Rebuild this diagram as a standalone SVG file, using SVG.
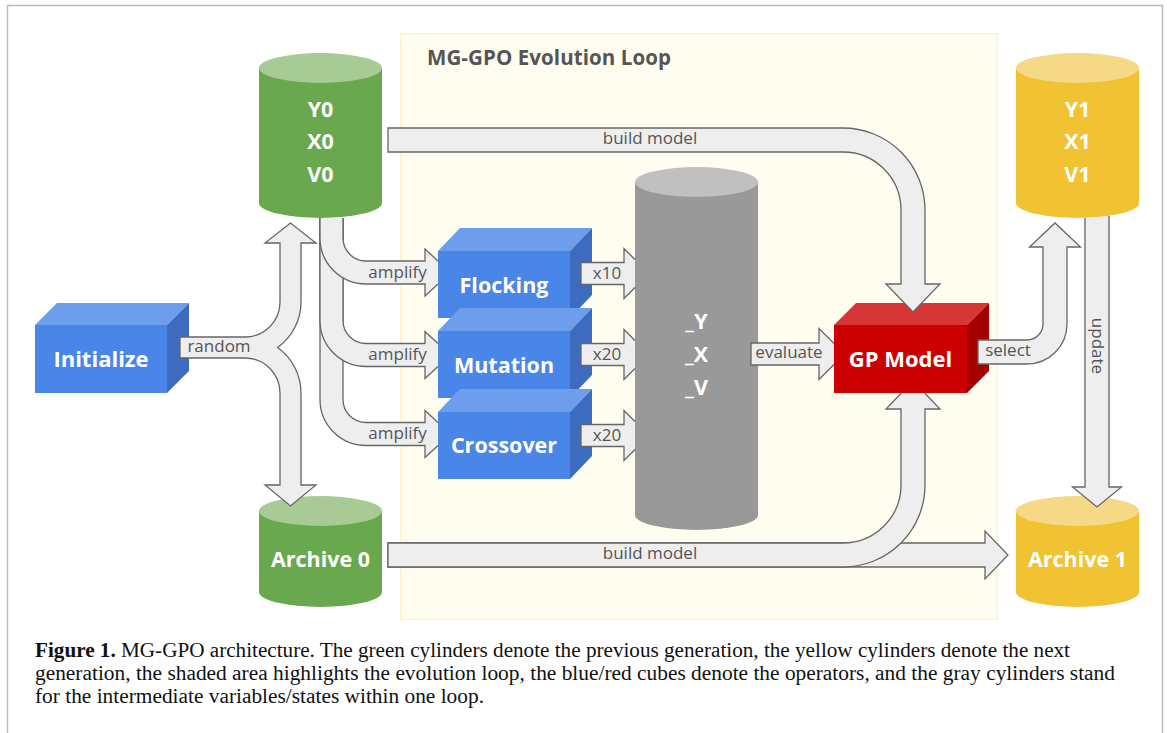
<svg xmlns="http://www.w3.org/2000/svg" width="1167" height="733" viewBox="0 0 1167 733">
<style>
.lbl{font-family:"Open Sans","Noto Sans",sans-serif;font-size:17px;fill:#555;text-anchor:middle}
.nl{font-family:"Open Sans","Noto Sans",sans-serif;font-weight:700;font-size:21.5px;fill:#fff;text-anchor:middle}
.af{fill:#eeeeee;stroke:none}
.as{fill:none;stroke:#666;stroke-width:1.3;stroke-linejoin:miter}
.ar{fill:#eeeeee;stroke:#666;stroke-width:1.3}
.bf{fill:#4a86e8}.bt{fill:#6d9eeb}.bs{fill:#3c6bbf}
.cap{font-family:"Liberation Serif","Times New Roman",serif;font-size:20.5px;fill:#111}
</style>
<rect x="0" y="0" width="1167" height="733" fill="#fff"/>
<rect x="7.5" y="5.5" width="1155" height="740" fill="#fff" stroke="#bbb" stroke-width="1.5"/>
<g id="loop">
<rect x="400.5" y="33.5" width="597" height="586" fill="#fffcf0" stroke="#fff0c6" stroke-width="1.2"/>
<text x="427" y="65" textLength="244" style="font-family:'Open Sans','Noto Sans',sans-serif;font-weight:700;font-size:20.5px;fill:#555">MG-GPO Evolution Loop</text>
</g>
<g id="y0">
<rect x="259" y="68" width="123" height="135" fill="#6aa84f"/>
<ellipse cx="320.5" cy="203" rx="61.5" ry="15" fill="#6aa84f"/>
<ellipse cx="320.5" cy="68" rx="61.5" ry="15" fill="#a8cb96"/>
<text class="nl" x="320.5" y="117">Y0</text><text class="nl" x="320.5" y="149">X0</text><text class="nl" x="320.5" y="182">V0</text>
</g>
<g id="y1">
<rect x="1016" y="68" width="123" height="135" fill="#f1c232"/>
<ellipse cx="1077.5" cy="203" rx="61.5" ry="15" fill="#f1c232"/>
<ellipse cx="1077.5" cy="68" rx="61.5" ry="15" fill="#f5d987"/>
<text class="nl" x="1077.5" y="117">Y1</text><text class="nl" x="1077.5" y="149">X1</text><text class="nl" x="1077.5" y="182">V1</text>
</g>
<g id="archive0">
<rect x="259" y="511" width="123" height="81" fill="#6aa84f"/>
<ellipse cx="320.5" cy="592" rx="61.5" ry="15" fill="#6aa84f"/>
<ellipse cx="320.5" cy="511" rx="61.5" ry="15" fill="#a8cb96"/>
<text class="nl" x="320.5" y="567">Archive 0</text>
</g>
<g id="archive1">
<rect x="1016" y="511" width="123" height="81" fill="#f1c232"/>
<ellipse cx="1077.5" cy="592" rx="61.5" ry="15" fill="#f1c232"/>
<ellipse cx="1077.5" cy="511" rx="61.5" ry="15" fill="#f5d987"/>
<text class="nl" x="1077.5" y="567">Archive 1</text>
</g>
<g id="initialize">
<rect class="bf" x="35" y="325" width="132" height="68"/>
<polygon class="bt" points="35,325 57,303 189,303 167,325"/>
<polygon class="bs" points="167,325 189,303 189,371 167,393"/>
<text class="nl" x="101" y="367" style="font-size:22px">Initialize</text>
</g>
<g id="flocking">
<rect class="bf" x="438" y="251" width="132" height="67"/>
<polygon class="bt" points="438,251 460,228 592,228 570,251"/>
<polygon class="bs" points="570,251 592,228 592,295 570,318"/>
<text class="nl" x="504" y="293">Flocking</text>
</g>
<g id="mutation">
<rect class="bf" x="438" y="331" width="132" height="67"/>
<polygon class="bt" points="438,331 460,308 592,308 570,331"/>
<polygon class="bs" points="570,331 592,308 592,375 570,398"/>
<text class="nl" x="504" y="373">Mutation</text>
</g>
<g id="crossover">
<rect class="bf" x="438" y="412" width="132" height="67"/>
<polygon class="bt" points="438,412 460,389 592,389 570,412"/>
<polygon class="bs" points="570,412 592,389 592,456 570,479"/>
<text class="nl" x="504" y="453">Crossover</text>
</g>
<g id="states">
<rect x="635" y="182" width="123" height="333" fill="#999"/>
<ellipse cx="696.5" cy="515" rx="61.5" ry="15" fill="#999"/>
<ellipse cx="696.5" cy="182" rx="61.5" ry="15" fill="#c0c0c0"/>
<text class="nl" x="696.5" y="329">_Y</text><text class="nl" x="696.5" y="362">_X</text><text class="nl" x="696.5" y="395">_V</text>
</g>
<g id="gpmodel">
<rect x="834" y="325" width="133" height="68" fill="#cc0000"/>
<polygon points="834,325 856,303 989,303 967,325" fill="#d63636"/>
<polygon points="967,325 989,303 989,371 967,393" fill="#a30000"/>
<text class="nl" x="900.5" y="367" style="font-size:22px">GP Model</text>
</g>
<g id="connectors">
<path class="ar" d="M180,337 H245 A35,35 0 0 0 280,302 V243 H265 L290.5,223 L316,243 H301 V302 A56,56 0 0 1 277.65,347.5 A56,56 0 0 1 301,393 V485 H316 L290.5,506 L265,485 H280 V393 A35,35 0 0 0 245,358 H180 Z"/>
<path class="af" d="M320,218 H343 V399.5 A23,23 0 0 0 366,422.5 H425 V410.5 L438,422.5 V445.5 L425,457.5 V445.5 H366 A46,46 0 0 1 320,399.5 Z"/>
<path class="as" d="M343,218 V399.5 A23,23 0 0 0 366,422.5 H425 V410.5 L438,422.5 M438,445.5 L425,457.5 V445.5 H366 A46,46 0 0 1 320,399.5 V218"/>
<path class="af" d="M320,218 H343 V320.5 A23,23 0 0 0 366,343.5 H425 V331.5 L438,343.5 V366.5 L425,378.5 V366.5 H366 A46,46 0 0 1 320,320.5 Z"/>
<path class="as" d="M343,218 V320.5 A23,23 0 0 0 366,343.5 H425 V331.5 L438,343.5 M438,366.5 L425,378.5 V366.5 H366 A46,46 0 0 1 320,320.5 V218"/>
<path class="af" d="M320,218 H343 V238 A23,23 0 0 0 366,261 H425 V249 L438,261 V284 L425,296 V284 H366 A46,46 0 0 1 320,238 Z"/>
<path class="as" d="M343,218 V238 A23,23 0 0 0 366,261 H425 V249 L438,261 M438,284 L425,296 V284 H366 A46,46 0 0 1 320,238 V218"/>
<path class="ar" d="M635,287.5 L624,298.5 V284.5 H581 V262.5 H624 V248.5 L635,259.5"/>
<path class="ar" d="M635,368.5 L624,379.5 V365.5 H581 V343.5 H624 V329.5 L635,340.5"/>
<path class="ar" d="M635,449.5 L624,460.5 V446.5 H581 V424.5 H624 V410.5 L635,421.5"/>
<path class="ar" d="M834,364.5 L819,379.5 V365 H751 V343 H819 V328.5 L834,343.5"/>
<path class="ar" d="M388,128 H843 A82,82 0 0 1 925,210 V284 H940 L913,312 L886,284 H901 V210 A58,58 0 0 0 843,152 H388 Z"/>
<path class="ar" d="M388,543 H985 V531 L1008,555 L985,579 V567 H388 Z"/>
<path class="ar" d="M924.6,393 L940,409 H925 V485 A82,82 0 0 1 843,567 H388 V543 H843 A58,58 0 0 0 901,485 V409 H886 L901.4,393"/>
<path class="ar" d="M978,340 H1027 A16,16 0 0 0 1043,324 V247 H1029.5 L1055,223 L1080.5,247 H1067 V324 A40,40 0 0 1 1027,364 H978 Z"/>
<path class="ar" d="M1109,216 V487 H1121.5 L1097,507 L1072.5,487 H1085 V218"/>
<text class="lbl" x="650" y="144">build model</text>
<text class="lbl" x="650" y="559">build model</text>
<text class="lbl" x="219" y="352">random</text>
<text class="lbl" x="397.5" y="278">amplify</text>
<text class="lbl" x="397.5" y="360">amplify</text>
<text class="lbl" x="397.5" y="439">amplify</text>
<text class="lbl" x="607" y="279">x10</text>
<text class="lbl" x="607" y="360">x20</text>
<text class="lbl" x="607" y="441">x20</text>
<text class="lbl" x="789" y="358">evaluate</text>
<text class="lbl" x="1008" y="356">select</text>
<text class="lbl" transform="translate(1092,346) rotate(90)" x="0" y="0">update</text>
</g>
<g id="caption">
<text class="cap" x="35" y="657" textLength="1035" lengthAdjust="spacingAndGlyphs"><tspan font-weight="700">Figure 1.</tspan> MG-GPO architecture. The green cylinders denote the previous generation, the yellow cylinders denote the next</text>
<text class="cap" x="35" y="680" textLength="1080" lengthAdjust="spacingAndGlyphs">generation, the shaded area highlights the evolution loop, the blue/red cubes denote the operators, and the gray cylinders stand</text>
<text class="cap" x="35" y="703" textLength="449" lengthAdjust="spacingAndGlyphs">for the intermediate variables/states within one loop.</text>
</g>
</svg>
